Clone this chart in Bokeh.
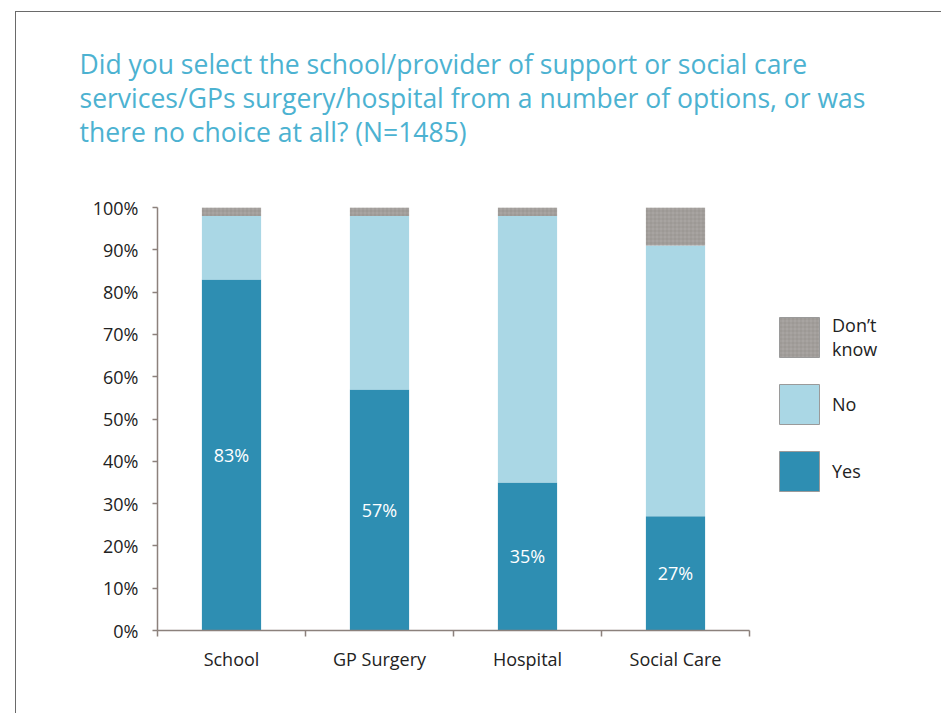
from bokeh.plotting import figure
from bokeh.models import (Range1d, FixedTicker, Title, Legend, LegendItem, ColumnDataSource, Spacer)
from bokeh.layouts import column, row
from bokeh.core.properties import value
from bokeh.embed import file_html
from bokeh.resources import INLINE

# ---- data ----
categories = ["School", "GP Surgery", "Hospital", "Social Care"]
yes = [83, 57, 35, 27]
no = [15, 41, 63, 64]
dont_know = [2, 2, 2, 9]
y_ticks = [0, 10, 20, 30, 40, 50, 60, 70, 80, 90, 100]
title_lines = [
    "Did you select the school/provider of support or social care",
    "services/GPs surgery/hospital from a number of options, or was",
    "there no choice at all? (N=1485)",
]

FONT = "Open Sans"
TITLE_COLOR = "#4cb2d1"
YES_C = "#2e8eb2"
NO_C = "#aad7e5"
DK_C = "#a8a4a1"
AXIS_C = "#8c817c"
TEXT_C = "#222222"

xc = [i + 0.5 for i in range(len(categories))]
src = ColumnDataSource(dict(
    x=xc,
    yes_top=yes,
    no_bottom=yes,
    no_top=[a + b for a, b in zip(yes, no)],
    dk_bottom=[a + b for a, b in zip(yes, no)],
    dk_top=[a + b + c for a, b, c in zip(yes, no, dont_know)],
    lab_y=[v / 2 for v in yes],
    lab=[f"{v}%" for v in yes],
))

W, H = 926, 702
BL, BR = 141, 5
p = figure(width=W, height=H, output_backend="svg", toolbar_location=None,
           x_range=Range1d(0, (W - BL - BR) / 148), y_range=Range1d(0, 100),
           min_border_left=BL, min_border_right=BR, min_border_bottom=84, min_border_top=195,
           background_fill_color="white", border_fill_color="white",
           styles={"border-top": "1.5px solid #6a6a6a", "border-left": "1.5px solid #6a6a6a"})
p.outline_line_color = None
p.grid.visible = False

# spacer title nearest the frame, then lines from bottom to top
p.add_layout(Title(text=" ", text_font_size="52px", standoff=0), "above")
for line in reversed(title_lines):
    t = Title(text=line, align="left", offset=-78, text_font=FONT,
              text_font_size="26.5px", text_font_style="normal", text_color=TITLE_COLOR,
              standoff=-4)
    p.add_layout(t, "above")

bw = 0.4
p.vbar(x="x", bottom=0, top="yes_top", width=bw, source=src,
       fill_color=YES_C, line_color=None)
p.vbar(x="x", bottom="no_bottom", top="no_top", width=bw, source=src,
       fill_color=NO_C, line_color=None)
p.vbar(x="x", bottom="dk_bottom", top="dk_top", width=bw, source=src,
       fill_color=DK_C, line_color=None, hatch_pattern="+", hatch_color="#8a8582",
       hatch_scale=4, hatch_alpha=0.6, hatch_weight=0.7)

p.text(x="x", y="lab_y", text="lab", source=src, text_color="white",
       text_font=value(FONT), text_font_size="18px", text_align="center",
       text_baseline="middle")

# legend swatches (placed off-range, only used by the legend)
r_dk = p.rect(x=[-50], y=[-50], width=1, height=1, fill_color=DK_C, line_color="#9a9a9a",
              hatch_pattern="+", hatch_color="#8a8582", hatch_scale=4, hatch_alpha=0.6,
              hatch_weight=0.7)
r_no = p.rect(x=[-50], y=[-50], width=1, height=1, fill_color=NO_C, line_color="#9a9a9a")
r_yes = p.rect(x=[-50], y=[-50], width=1, height=1, fill_color=YES_C, line_color="#9a9a9a")
legend = Legend(items=[
    LegendItem(label="Don\u2019t\nknow", renderers=[r_dk]),
    LegendItem(label="No", renderers=[r_no]),
    LegendItem(label="Yes", renderers=[r_yes]),
], location=(617, 134), glyph_width=50, glyph_height=50, spacing=17,
    label_standoff=8, padding=0, margin=0, border_line_color=None,
    background_fill_alpha=0, label_text_font=FONT, label_text_font_size="18px",
    label_text_color=TEXT_C)
p.add_layout(legend, "center")

# x axis
xa = p.xaxis[0]
xa.ticker = FixedTicker(ticks=xc, minor_ticks=[0, 1, 2, 3, 4])
xa.major_label_overrides = {v: c for v, c in zip(xc, categories)}
xa.bounds = (0, 4)
xa.major_tick_line_color = None
xa.minor_tick_line_color = AXIS_C
xa.minor_tick_out = 6
xa.minor_tick_in = 0
xa.minor_tick_line_width = 1.5
xa.axis_line_color = AXIS_C
xa.axis_line_width = 1.5
xa.major_label_text_font = FONT
xa.major_label_text_font_size = "18px"
xa.major_label_text_color = TEXT_C
xa.major_label_standoff = 10

# y axis
ya = p.yaxis[0]
ya.ticker = FixedTicker(ticks=y_ticks)
ya.major_label_overrides = {v: f"{v}%" for v in y_ticks}
ya.minor_tick_line_color = None
ya.major_tick_line_color = AXIS_C
ya.major_tick_out = 5
ya.major_tick_in = 0
ya.major_tick_line_width = 1.5
ya.axis_line_color = AXIS_C
ya.axis_line_width = 1.5
ya.major_label_text_font = FONT
ya.major_label_text_font_size = "18px"
ya.major_label_text_color = TEXT_C
ya.major_label_standoff = 14

layout = column(Spacer(height=11), row(Spacer(width=15), p))
open("out.html", "w").write(file_html(layout, INLINE))
